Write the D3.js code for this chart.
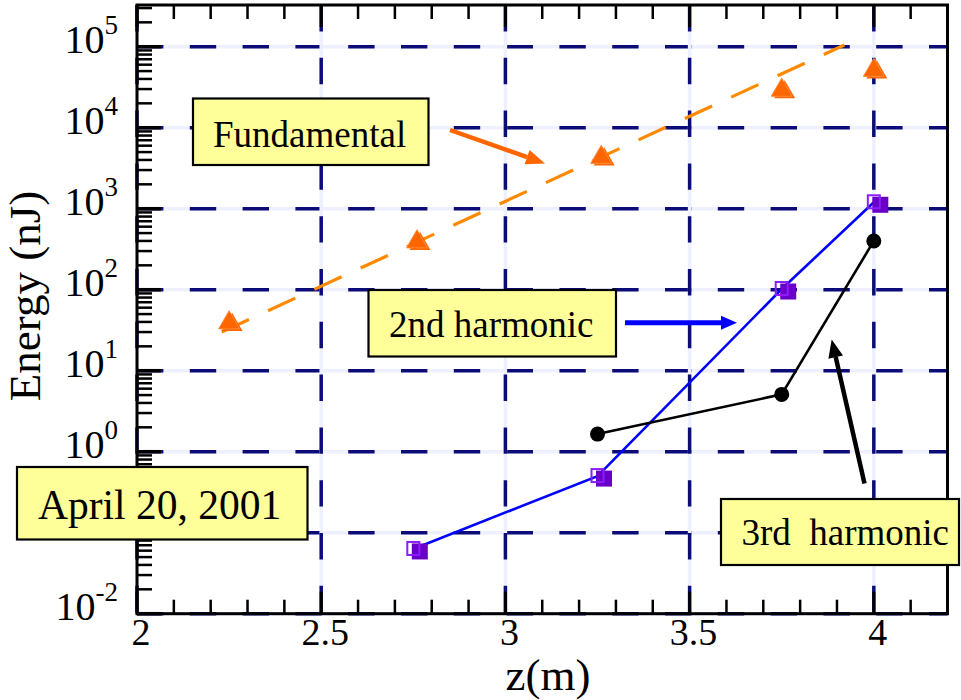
<!DOCTYPE html>
<html>
<head>
<meta charset="utf-8">
<script src="https://cdn.jsdelivr.net/npm/d3@7"></script>
<style>
    body { margin: 0; background: #fff; }
    text { font-family: "Liberation Serif", "Times New Roman", serif; fill: #000; }
</style>
</head>
<body>
<div id="chart"></div>
<script>

// ---- data ----
let xTickValues = [2, 2.5, 3, 3.5, 4];
let yDecades = [-2, -1, 0, 1, 2, 3, 4, 5];

// fundamental (triangles) + exponential fit (dashed)
let zFund = [2.25, 2.76, 3.26, 3.75, 4.0];
let eFund = [39, 390, 4300, 29000, 51000];
let zFit = [2.23, 3.92];
let eFit = [30, 105000];

// 2nd harmonic (squares, blue line)
let z2nd = [2.75, 3.25, 3.75, 4.0];
let e2nd = [0.063, 0.5, 102, 1200];

// 3rd harmonic (dots, black line)
let z3rd = [3.25, 3.75, 4.0];
let e3rd = [1.65, 5.1, 400];

let zipPts = (xs, ys) => xs.map((x, i) => ({z: x, e: ys[i]}));

/* * * * * * * * * * * * * *
*      chart setup         *
* * * * * * * * * * * * * */

let margin = {top: 5, right: 13.5, bottom: 86.3, left: 137};
let W = 961, H = 700;
let width = W - margin.left - margin.right,
    height = H - margin.top - margin.bottom;

let svg = d3.select("#chart").append("svg")
    .attr("width", W)
    .attr("height", H);

let x = d3.scaleLinear().domain([2, 4.2]).range([margin.left, margin.left + width]);
let y = d3.scaleLog().domain([1e-2, Math.pow(10, 5.515)]).range([margin.top + height, margin.top]);

let x0 = x.range()[0], x1 = x.range()[1];
let y0 = y.range()[0], y1 = y.range()[1];

// grid: light lavender underlay with navy dashes on top
let gridG = svg.append("g").attr("class", "grid");
yDecades.forEach(k => {
    let yy = y(Math.pow(10, k));
    gridG.append("line").attr("x1", x0).attr("x2", x1).attr("y1", yy).attr("y2", yy)
        .attr("stroke", "#eef0ff").attr("stroke-width", 3.5);
    gridG.append("line").attr("x1", x0).attr("x2", x1).attr("y1", yy).attr("y2", yy)
        .attr("stroke", "#0c0c78").attr("stroke-width", 3.5)
        .attr("stroke-dasharray", "26.4,26.4");
});
xTickValues.forEach(v => {
    let xx = x(v);
    gridG.append("line").attr("x1", xx).attr("x2", xx).attr("y1", y1).attr("y2", y0)
        .attr("stroke", "#eef0ff").attr("stroke-width", 3.5);
    gridG.append("line").attr("x1", xx).attr("x2", xx).attr("y1", y1).attr("y2", y0)
        .attr("stroke", "#0c0c78").attr("stroke-width", 3.5)
        .attr("stroke-dasharray", "26.4,26.4");
});

// ---- axes: frame + inward ticks on left, top, bottom ----
let axisG = svg.append("g").attr("class", "axes");

let xMinor = d3.range(20, 43).map(d => d / 10).filter(d => xTickValues.indexOf(d) < 0);
let yMinor = [];
yDecades.forEach(k => {
    for (let m = 2; m <= 9; m++) {
        let v = m * Math.pow(10, k);
        if (v > y.domain()[0] && v < y.domain()[1]) yMinor.push(v);
    }
});

let tickW = 2.5, minorLen = 14, majorLen = 22;

// bottom + top
[[y0, -1], [y1, 1]].forEach(([base, dir]) => {
    axisG.selectAll(null).data(xMinor).enter().append("line")
        .attr("x1", d => x(d)).attr("x2", d => x(d))
        .attr("y1", base).attr("y2", base + dir * minorLen)
        .attr("stroke", "#000").attr("stroke-width", tickW);
    axisG.selectAll(null).data(xTickValues).enter().append("line")
        .attr("x1", d => x(d)).attr("x2", d => x(d))
        .attr("y1", base).attr("y2", base + dir * majorLen)
        .attr("stroke", "#000").attr("stroke-width", tickW + 0.5);
});

// left
axisG.selectAll(null).data(yMinor).enter().append("line")
    .attr("x1", x0).attr("x2", x0 + 15)
    .attr("y1", d => y(d)).attr("y2", d => y(d))
    .attr("stroke", "#000").attr("stroke-width", tickW);
axisG.selectAll(null).data(yDecades).enter().append("line")
    .attr("x1", x0).attr("x2", x0 + 24)
    .attr("y1", d => y(Math.pow(10, d))).attr("y2", d => y(Math.pow(10, d)))
    .attr("stroke", "#000").attr("stroke-width", tickW + 1);

// frame
axisG.append("rect")
    .attr("x", x0).attr("y", y1)
    .attr("width", x1 - x0).attr("height", y0 - y1)
    .attr("fill", "none").attr("stroke", "#000").attr("stroke-width", 3);

// tick labels
axisG.selectAll(".xlab").data(xTickValues).enter().append("text")
    .attr("class", "xlab")
    .attr("x", d => x(d) + 4).attr("y", 645)
    .attr("text-anchor", "middle")
    .attr("font-size", 38)
    .text(d => d);

// the 10^-1 label sits under the date box in the original, so it is not drawn
let yLab = axisG.selectAll(".ylab").data(yDecades.filter(k => k !== -1)).enter().append("text")
    .attr("class", "ylab")
    .attr("x", 118).attr("y", d => y(Math.pow(10, d)) + 6)
    .attr("text-anchor", "end")
    .attr("font-size", 40);
yLab.append("tspan").text("10");
yLab.append("tspan").attr("dy", -19).attr("font-size", 27).text(d => d);

// axis titles
svg.append("text")
    .attr("x", 548).attr("y", 690)
    .attr("text-anchor", "middle")
    .attr("font-size", 45)
    .text("z(m)");

svg.append("text")
    .attr("transform", "translate(40, 296) rotate(-90)")
    .attr("text-anchor", "middle")
    .attr("font-size", 45)
    .text("Energy (nJ)");

/* * * * * * * * * * * * * *
*        series            *
* * * * * * * * * * * * * */

let line = d3.line().x(d => x(d.z)).y(d => y(d.e));
let plotG = svg.append("g").attr("class", "series");

// fundamental fit, dashed orange
plotG.append("path")
    .datum(zipPts(zFit, eFit))
    .attr("d", line)
    .attr("fill", "none")
    .attr("stroke", "#ff8a00")
    .attr("stroke-width", 3.2)
    .attr("stroke-dasharray", "30,21");

// 2nd harmonic line
plotG.append("path")
    .datum(zipPts(z2nd, e2nd))
    .attr("d", line)
    .attr("fill", "none")
    .attr("stroke", "#0000ff")
    .attr("stroke-width", 2.6);

// 3rd harmonic line
plotG.append("path")
    .datum(zipPts(z3rd, e3rd))
    .attr("d", line)
    .attr("fill", "none")
    .attr("stroke", "#000")
    .attr("stroke-width", 2.6);

// triangles (doubled, as in the original)
let tri = d3.symbol().type(d3.symbolTriangle).size(190);
zipPts(zFund, eFund).forEach(d => {
    plotG.append("path").attr("d", tri)
        .attr("transform", `translate(${x(d.z) + 3}, ${y(d.e) + 2})`)
        .attr("fill", "#ff6600");
    plotG.append("path").attr("d", tri)
        .attr("transform", `translate(${x(d.z)}, ${y(d.e)})`)
        .attr("fill", "#ff6600").attr("stroke", "#ff8a3a").attr("stroke-width", 1);
});

// squares: hollow + filled, slightly offset
zipPts(z2nd, e2nd).forEach(d => {
    let cx = x(d.z), cy = y(d.e);
    plotG.append("rect")
        .attr("x", cx - 1.5).attr("y", cy - 5.5)
        .attr("width", 16).attr("height", 16)
        .attr("fill", "#6a00c8");
    plotG.append("rect")
        .attr("x", cx - 6).attr("y", cy - 7)
        .attr("width", 12).attr("height", 13)
        .attr("fill", "none").attr("stroke", "#8a1cff").attr("stroke-width", 2);
});

// dots
plotG.selectAll(".dot").data(zipPts(z3rd, e3rd)).enter().append("circle")
    .attr("class", "dot")
    .attr("cx", d => x(d.z)).attr("cy", d => y(d.e))
    .attr("r", 7.5)
    .attr("fill", "#000");

/* * * * * * * * * * * * * *
*      annotations         *
* * * * * * * * * * * * * */

let noteG = svg.append("g").attr("class", "notes");

function arrow(xa, ya, xb, yb, color, w, headLen, headW) {
    let ang = Math.atan2(yb - ya, xb - xa);
    let bx = xb - headLen * Math.cos(ang), by = yb - headLen * Math.sin(ang);
    noteG.append("line")
        .attr("x1", xa).attr("y1", ya).attr("x2", bx).attr("y2", by)
        .attr("stroke", color).attr("stroke-width", w);
    let px = -Math.sin(ang) * headW / 2, py = Math.cos(ang) * headW / 2;
    noteG.append("polygon")
        .attr("points", [[xb, yb], [bx + px, by + py], [bx - px, by - py]].map(p => p.join(",")).join(" "))
        .attr("fill", color);
}

function box(x0, y0, w, h, label, tx, ty, fs) {
    noteG.append("rect")
        .attr("x", x0).attr("y", y0).attr("width", w).attr("height", h)
        .attr("fill", "#ffff99").attr("stroke", "#000").attr("stroke-width", 2.2);
    noteG.append("text")
        .attr("x", tx).attr("y", ty)
        .attr("font-size", fs)
        .style("white-space", "pre")
        .text(label);
}

box(193, 98.5, 235.5, 66.5, "Fundamental", 213, 146.5, 37);
arrow(450, 130, 545, 163.5, "#ff6600", 4.5, 19, 15);

box(368.5, 290, 247.5, 66.5, "2nd harmonic", 389, 336.5, 37);
arrow(625, 322.7, 737, 322.7, "#0000ff", 5, 16, 14);

box(721, 499, 238, 66, "3rd  harmonic", 741.5, 545, 37);
arrow(864.5, 483.5, 831.7, 339.5, "#000", 4.5, 18, 15);

box(17, 467, 290.5, 72.5, "April 20, 2001", 38, 518.5, 41.5);

</script>
</body>
</html>
